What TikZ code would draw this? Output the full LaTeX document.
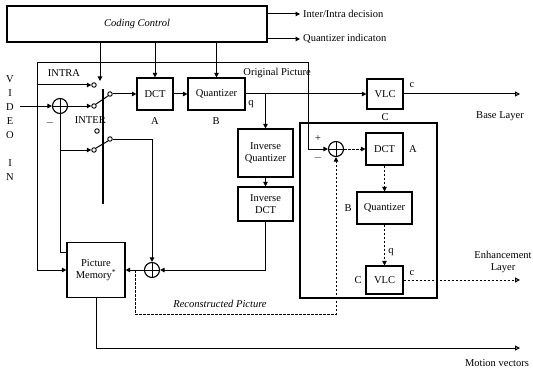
\documentclass[tikz,border=0pt]{standalone}
\usepackage{fontspec}
\setmainfont{Liberation Serif}
\usetikzlibrary{arrows.meta,calc}
\newcommand{\lblfont}{\fontsize{10.5}{11.5}\selectfont}
\begin{document}
\begin{tikzpicture}[x=1pt,y=-1pt,
  blk/.style={draw, line width=1.1pt, inner sep=1pt, align=center, font=\lblfont},
  ln/.style={line width=1pt},
  arr/.style={line width=1pt, -{Triangle[length=4.5pt,width=4.5pt]}},
  oarr/.style={line width=1pt, -{Triangle[open,length=5pt,width=5pt]}},
  darr/.style={line width=1pt, dash pattern=on 2.5pt off 1.5pt, -{Triangle[length=4.5pt,width=4.5pt]}},
  doarr/.style={line width=1pt, dash pattern=on 2.5pt off 1.5pt, -{Triangle[open,length=5pt,width=5pt]}},
  contact/.style={circle, draw, line width=0.9pt, fill=white, minimum size=4.5pt, inner sep=0pt},
  adder/.style={circle, draw, line width=1.1pt, minimum size=15pt, inner sep=0pt,
    path picture={\draw[line width=1pt] (path picture bounding box.north) -- (path picture bounding box.south)
      (path picture bounding box.west) -- (path picture bounding box.east);}},
  lab/.style={font=\lblfont, inner sep=0pt},
]
\useasboundingbox (0,0) rectangle (533,369);

% blocks
\node[blk, minimum width=260pt, minimum height=36pt] (cc) at (137,24) {\textit{Coding Control}};
\node[blk, minimum width=36pt, minimum height=32pt] (dct) at (155,94) {DCT};
\node[blk, minimum width=57pt, minimum height=32pt] (q) at (216.5,94) {Quantizer};
\node[blk, minimum width=36pt, minimum height=30pt] (vlc) at (385,94) {VLC};
\node[blk, minimum width=55pt, minimum height=48pt] (iq) at (265.5,153) {Inverse\\Quantizer};
\node[blk, minimum width=55pt, minimum height=34pt] (idct) at (265.5,204) {Inverse\\DCT};
\node[blk, minimum width=58pt, minimum height=55pt] (pm) at (96,270) {Picture\\Memory\textsuperscript{*}};
\node[draw, line width=1.1pt, minimum width=137pt, minimum height=175pt] (eframe) at (368.5,210.5) {};
\node[blk, minimum width=37pt, minimum height=32pt] (edct) at (384.5,149) {DCT};
\node[blk, minimum width=55pt, minimum height=32pt] (eq) at (384.5,208) {Quantizer};
\node[blk, minimum width=37pt, minimum height=28pt] (evlc) at (384.5,280) {VLC};

% adders
\node[adder] (add1) at (60,106) {};
\node[adder] (add2) at (336,149) {};
\node[adder] (add3) at (152,270) {};

% switch contacts
\node[contact] (c1) at (94,85) {};
\node[contact] (c2) at (94,106) {};
\node[contact] (o1) at (110,94) {};
\node[contact] (c3) at (97,131) {};
\node[contact] (c4) at (94,150) {};
\node[contact] (o2) at (110,139) {};

% helper coordinates
\coordinate (vin) at (20,106);
\coordinate (j0) at (37,106);
\coordinate (jtop) at (308,63);
\coordinate (intra) at (37,85);
\coordinate (jm) at (60,252);
\coordinate (jc4) at (60,150);
\coordinate (ctl) at (100,42);
\coordinate (ctlend) at (100,81);
\coordinate (io1) at (300,14);
\coordinate (io2) at (300,39);
\coordinate (baseout) at (520,94);
\coordinate (enhout) at (520,280);
\coordinate (mvout) at (520,348);
\coordinate (rj) at (135,270);
\coordinate (rb) at (135,314);
\coordinate (bar1) at (103,89);
\coordinate (bar2) at (103,204);

% connectors
\draw[arr] (vin) -- (add1.west);
\draw[arr] (j0) |- (jtop) |- (add2.west);
\draw[arr] (j0) |- (pm.west);
\draw[arr] (intra) -- (c1.west);
\draw[arr] (add1.east) -- (c2.west);
\draw[ln] (c2.north east) -- (o1.south west);
\draw[arr] (o1.east) -- (dct.west);
\draw[ln] (add1.south) |- (pm.west |- jm);
\draw[arr] (jc4) -- (c4.west);
\draw[ln] (c4.north east) -- (o2.south west);
\draw[line width=1.3pt] (bar1) -- (bar2);
\draw[arr] (o2.east) -| (add3.north);
\draw[arr] (add3.west) -- (pm.east);
\draw[arr] (idct.south) |- (add3.east);
\draw[arr] (dct.east) -- (q.west);
\draw[arr] (q.east) -- (vlc.west);
\draw[arr] (q.east -| iq.north) -- (iq.north);
\draw[arr] (iq) -- (idct);
\draw[oarr] (vlc.east) -- (baseout);
\draw[arr] (ctl) -- (ctlend);
\draw[arr] (cc.south -| dct.north) -- (dct.north);
\draw[arr] (cc.south -| q.north) -- (q.north);
\draw[arr] (cc.east |- io1) -- (io1);
\draw[arr] (cc.east |- io2) -- (io2);
\draw[oarr] (pm.south) |- (mvout);
\draw[darr] (rj) -- (rb) -| (add2.south);
\draw[darr] (add2.east) -- (edct.west);
\draw[darr] (edct) -- (eq);
\draw[darr] (eq) -- (evlc);
\draw[doarr] (evlc.east) -- (enhout);

% labels
\node[lab, anchor=west] (t1) at (303,14) {Inter/Intra decision};
\node[lab, anchor=west] (t2) at (303,39) {Quantizer indicaton};
\node[lab] (tintra) at (64,73) {INTRA};
\node[lab, anchor=east] (tinter) at (106,120) {INTER};
\node[lab] (tminus1) at (50,123) {$-$};
\node[lab, anchor=east] (torig) at (311,73) {Original Picture};
\node[lab] (tA) at (155,121) {A};
\node[lab] (tB) at (216,121) {B};
\node[lab] (tq) at (251,104) {q};
\node[lab] (tC) at (385,117) {C};
\node[lab] (tc) at (412,85) {c};
\node[lab] (tbase) at (500,116) {Base Layer};
\node[lab] (tplus) at (318,139) {+};
\node[lab] (tminus2) at (318,158) {$-$};
\node[lab] (teA) at (413,149) {A};
\node[lab] (teB) at (348,208) {B};
\node[lab] (teC) at (358,280) {C};
\node[lab] (teq) at (391,252) {q};
\node[lab] (tec) at (412,273) {c};
\node[lab] (tenh1) at (503,255) {Enhancement};
\node[lab] (tenh2) at (503,268) {Layer};
\node[lab] (trec) at (220,304) {\textit{Reconstructed Picture}};
\node[lab] (tmv) at (497,363) {Motion vectors};
\foreach \ch/\yy in {V/79, I/93, D/107, E/121, O/135, I/163, N/177}
  \node[lab] at (10,\yy) {\ch};
\end{tikzpicture}
\end{document}
